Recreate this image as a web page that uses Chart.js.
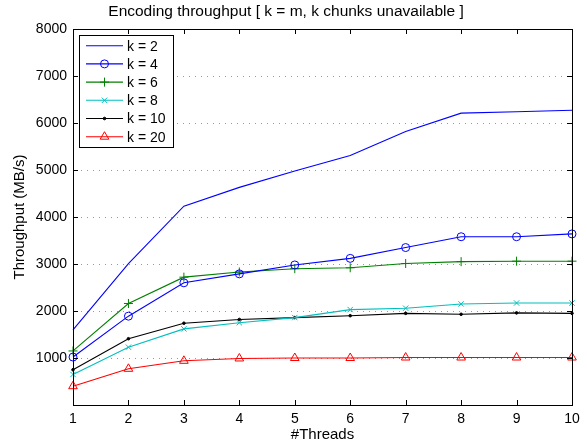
<!DOCTYPE html>
<html>
<head>
<meta charset="utf-8">
<script src="https://cdn.jsdelivr.net/npm/chart.js@4/dist/chart.umd.min.js"></script>
<style>
html,body{margin:0;padding:0;background:#fff;}
#wrap{width:587px;height:446px;}
</style>
</head>
<body>
<div id="wrap"><canvas id="c" width="587" height="446"></canvas></div>
<script>
const threads = [1, 2, 3, 4, 5, 6, 7, 8, 9, 10];
const k2  = [1600, 3010, 4230, 4630, 4980, 5310, 5820, 6210, 6240, 6270];
const k4  = [1020, 1890, 2600, 2790, 2980, 3120, 3350, 3580, 3580, 3640];
const k6  = [1150, 2160, 2720, 2830, 2900, 2920, 3010, 3050, 3060, 3060];
const k8  = [650, 1230, 1620, 1750, 1860, 2030, 2060, 2150, 2170, 2170];
const k10 = [750, 1410, 1740, 1820, 1860, 1900, 1950, 1930, 1960, 1950];
const k20 = [400, 770, 940, 990, 1000, 1000, 1010, 1010, 1010, 1010];
const seriesLabels = ['k = 2', 'k = 4', 'k = 6', 'k = 8', 'k = 10', 'k = 20'];
const yTicks = [0, 1000, 2000, 3000, 4000, 5000, 6000, 7000, 8000];

const FONT = "'Liberation Sans', Arial, Helvetica, sans-serif";

const styles = [
  {color:'#0000ff', pointStyle:'circle', radius:0, fill:'transparent'},
  {color:'#0000ff', pointStyle:'circle', radius:4, fill:'transparent'},
  {color:'#008000', pointStyle:'cross', radius:4.5, fill:'transparent'},
  {color:'#00bfbf', pointStyle:'crossRot', radius:3.8, fill:'transparent'},
  {color:'#000000', pointStyle:'circle', radius:1.3, fill:'#000000'},
  {color:'#ff0000', pointStyle:'triangle', radius:5, fill:'transparent'}
];
const allData = [k2, k4, k6, k8, k10, k20];

const datasets = allData.map((arr, i) => ({
  label: seriesLabels[i],
  data: threads.map((t, j) => ({x: t, y: arr[j]})),
  borderColor: styles[i].color,
  backgroundColor: styles[i].fill,
  pointBorderColor: styles[i].color,
  pointBackgroundColor: styles[i].fill,
  pointStyle: styles[i].pointStyle,
  pointRadius: styles[i].radius,
  pointBorderWidth: 1,
  borderWidth: 1.1,
  tension: 0,
  clip: false
}));

const boxPlugin = {
  id: 'boxPlugin',
  beforeDatasetsDraw(chart) {
    const {ctx, chartArea: a, scales} = chart;
    ctx.save();
    ctx.strokeStyle = '#999';
    ctx.lineWidth = 1;
    ctx.setLineDash([1, 5]);
    ctx.beginPath();
    yTicks.forEach(v => {
      if (v <= 0 || v >= 8000) return;
      const y = Math.round(scales.y.getPixelForValue(v)) + 0.5;
      ctx.moveTo(a.left + 2, y); ctx.lineTo(a.right, y);
    });
    ctx.stroke();
    ctx.restore();
  },
  afterDatasetsDraw(chart) {
    const {ctx, chartArea: a, scales} = chart;
    ctx.save();
    ctx.strokeStyle = '#000';
    ctx.lineWidth = 1;
    const tl = 5;
    ctx.beginPath();
    threads.forEach(t => {
      const x = Math.round(scales.x.getPixelForValue(t)) + 0.5;
      ctx.moveTo(x, a.bottom); ctx.lineTo(x, a.bottom - tl);
      ctx.moveTo(x, a.top); ctx.lineTo(x, a.top + tl);
    });
    yTicks.forEach(v => {
      const y = Math.round(scales.y.getPixelForValue(v)) + 0.5;
      ctx.moveTo(a.left, y); ctx.lineTo(a.left + tl, y);
      ctx.moveTo(a.right, y); ctx.lineTo(a.right - tl, y);
    });
    ctx.stroke();
    ctx.strokeRect(Math.round(a.left) + 0.5, Math.round(a.top) + 0.5,
                   Math.round(a.right - a.left), Math.round(a.bottom - a.top));
    // legend
    const lx = 79.5, ly = 35.5, lw = 94, lh = 112;
    ctx.fillStyle = '#fff';
    ctx.fillRect(lx, ly, lw, lh);
    ctx.strokeRect(lx, ly, lw, lh);
    ctx.font = '14px ' + FONT;
    ctx.textBaseline = 'middle';
    ctx.textAlign = 'left';
    chart.data.datasets.forEach((ds, i) => {
      const y = 45.7 + i * 18.2;
      ctx.strokeStyle = ds.borderColor;
      ctx.lineWidth = 1.1;
      ctx.beginPath();
      ctx.moveTo(86, y); ctx.lineTo(123, y);
      ctx.stroke();
      if (ds.pointRadius > 0) {
        ctx.fillStyle = ds.pointBackgroundColor;
        ctx.lineWidth = 1;
        Chart.helpers.drawPoint(ctx, {pointStyle: ds.pointStyle, radius: ds.pointRadius, rotation: 0, borderWidth: 1}, 104.5, y);
      }
      ctx.fillStyle = '#000';
      ctx.fillText(ds.label, 127, y + 1);
    });
    ctx.restore();
  }
};

new Chart(document.getElementById('c'), {
  type: 'line',
  data: {datasets},
  plugins: [boxPlugin],
  options: {
    responsive: false,
    devicePixelRatio: 1,
    animation: false,
    layout: {padding: {left: 0, right: 15, top: 0, bottom: 0}},
    plugins: {
      legend: {display: false},
      tooltip: {enabled: false},
      title: {
        display: true,
        text: 'Encoding throughput [ k = m, k chunks unavailable ]',
        color: '#000',
        font: {family: FONT, size: 15.5, weight: 'normal', lineHeight: 1.2},
        padding: {top: 2, bottom: 8.4}
      }
    },
    scales: {
      x: {
        type: 'linear',
        min: 1, max: 10,
        afterFit(s) { s.height = 41; },
        afterBuildTicks(s) { s.ticks = threads.map(v => ({value: v})); },
        grid: {display: false, drawTicks: false},
        border: {display: false},
        ticks: {color: '#000', font: {family: FONT, size: 14}, padding: 6, maxRotation: 0},
        title: {display: true, text: '#Threads', color: '#000',
                font: {family: FONT, size: 15, lineHeight: 1.2}, padding: {top: 0, bottom: 2}}
      },
      y: {
        type: 'linear',
        min: 0, max: 8000,
        afterFit(s) { s.width = 73; },
        afterBuildTicks(s) { s.ticks = yTicks.map(v => ({value: v})); },
        grid: {display: false, drawTicks: false},
        border: {display: false},
        ticks: {color: '#000', font: {family: FONT, size: 14}, padding: 6,
                callback: v => v === 0 ? '' : String(v)},
        title: {display: true, text: 'Throughput (MB/s)', color: '#000',
                font: {family: FONT, size: 15, lineHeight: 1.2}, padding: {top: 11, bottom: 0}}
      }
    }
  }
});
</script>
</body>
</html>
